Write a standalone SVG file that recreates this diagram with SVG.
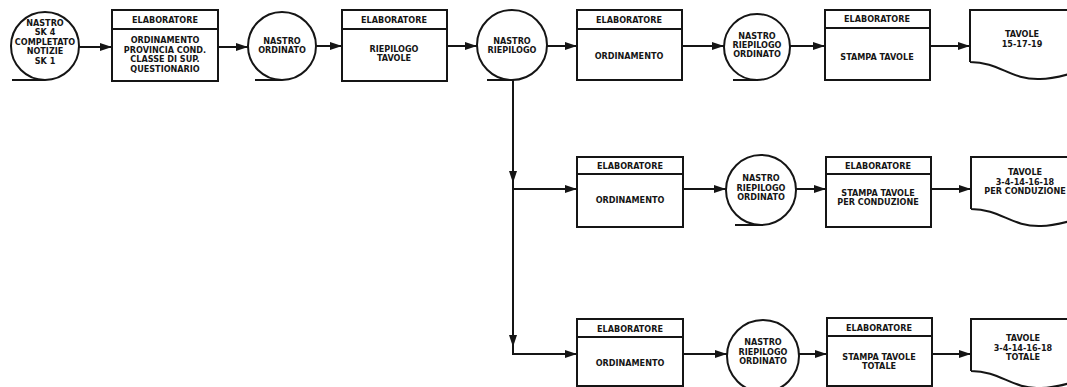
<svg xmlns="http://www.w3.org/2000/svg" width="1067" height="387" viewBox="0 0 1067 387">
<style>
.s{fill:none;stroke:#151515;stroke-width:2}
.b{fill:#fff;stroke:#151515;stroke-width:2}
.c{stroke:#151515;stroke-width:2;fill:none}
text{font-family:"DejaVu Sans Condensed","DejaVu Sans",sans-serif;font-weight:bold;font-size:9px;fill:#151515;text-anchor:middle}
</style>
<defs>
<marker id="ah" viewBox="0 0 12 8" refX="12" refY="4" markerWidth="12" markerHeight="8" markerUnits="userSpaceOnUse" orient="auto">
<path d="M0,0 L12,4 L0,8 Z" fill="#151515"/>
</marker>
<path id="doc" d="M0,52 L0,0 L110,0 M0,52 C30,52 40,70 70,69 C85,69 95,65 110,61"/>
</defs>
<rect width="1067" height="387" fill="#fff"/>

<g id="connectors">
<path class="c" d="M78,47 H112" marker-end="url(#ah)"/>
<path class="c" d="M218,47 H248" marker-end="url(#ah)"/>
<path class="c" d="M316,46 H342" marker-end="url(#ah)"/>
<path class="c" d="M447,46 H477" marker-end="url(#ah)"/>
<path class="c" d="M547,46 H577" marker-end="url(#ah)"/>
<path class="c" d="M682,46 H724" marker-end="url(#ah)"/>
<path class="c" d="M790,46 H825" marker-end="url(#ah)"/>
<path class="c" d="M930,46 H970" marker-end="url(#ah)"/>
<path class="c" d="M513,80 V183" marker-end="url(#ah)"/>
<path class="c" d="M513,183 V347" marker-end="url(#ah)"/>
<path class="c" d="M513,189 H577" marker-end="url(#ah)"/>
<path class="c" d="M513,347 V354 H577" marker-end="url(#ah)"/>
<path class="c" d="M683,189 H726" marker-end="url(#ah)"/>
<path class="c" d="M796,189 H826" marker-end="url(#ah)"/>
<path class="c" d="M931,189 H971" marker-end="url(#ah)"/>
<path class="c" d="M683,354 H727" marker-end="url(#ah)"/>
<path class="c" d="M798,354 H827" marker-end="url(#ah)"/>
<path class="c" d="M932,354 H971" marker-end="url(#ah)"/>
</g>

<g id="n1">
<circle class="b" cx="45" cy="46" r="34"/>
<path class="s" d="M12,80 H45"/>
<text x="45" y="26">NASTRO</text>
<text x="45" y="35">SK 4</text>
<text x="45" y="45">COMPLETATO</text>
<text x="45" y="54">NOTIZIE</text>
<text x="45" y="64">SK 1</text>
</g>

<g id="n2">
<rect class="b" x="112" y="10" width="106" height="71"/>
<path class="s" d="M112,29 H218"/>
<text x="165" y="23">ELABORATORE</text>
<text x="165" y="43">ORDINAMENTO</text>
<text x="165" y="53">PROVINCIA COND.</text>
<text x="165" y="62">CLASSE DI SUP.</text>
<text x="165" y="72">QUESTIONARIO</text>
</g>

<g id="n3">
<circle class="b" cx="282" cy="46" r="34"/>
<path class="s" d="M255,80 H282"/>
<text x="282" y="44">NASTRO</text>
<text x="282" y="53">ORDINATO</text>
</g>

<g id="n4">
<rect class="b" x="342" y="10" width="105" height="71"/>
<path class="s" d="M342,29 H447"/>
<text x="394" y="23">ELABORATORE</text>
<text x="394" y="52">RIEPILOGO</text>
<text x="394" y="61">TAVOLE</text>
</g>

<g id="n5">
<circle class="b" cx="512" cy="45" r="35"/>
<path class="s" d="M487,80 H513"/>
<text x="512" y="44">NASTRO</text>
<text x="512" y="53">RIEPILOGO</text>
</g>

<g id="n6">
<rect class="b" x="577" y="10" width="105" height="70"/>
<path class="s" d="M577,29 H682"/>
<text x="629" y="23">ELABORATORE</text>
<text x="629" y="59">ORDINAMENTO</text>
</g>

<g id="n7">
<circle class="b" cx="757" cy="47" r="33"/>
<path class="s" d="M733,80 H757"/>
<text x="757" y="39">NASTRO</text>
<text x="757" y="48">RIEPILOGO</text>
<text x="757" y="57">ORDINATO</text>
</g>

<g id="n8">
<rect class="b" x="825" y="10" width="105" height="70"/>
<path class="s" d="M825,28 H930"/>
<text x="877" y="22">ELABORATORE</text>
<text x="877" y="60">STAMPA TAVOLE</text>
</g>

<g id="n9">
<use href="#doc" class="s" transform="translate(970,10)"/>
<text x="1022" y="37">TAVOLE</text>
<text x="1022" y="47">15-17-19</text>
</g>

<g id="n10">
<rect class="b" x="577" y="157" width="106" height="70"/>
<path class="s" d="M577,174 H683"/>
<text x="630" y="169">ELABORATORE</text>
<text x="630" y="203">ORDINAMENTO</text>
</g>

<g id="n11">
<circle class="b" cx="761" cy="190" r="35"/>
<path class="s" d="M735,225 H761"/>
<text x="761" y="181">NASTRO</text>
<text x="761" y="191">RIEPILOGO</text>
<text x="761" y="200">ORDINATO</text>
</g>

<g id="n12">
<rect class="b" x="826" y="157" width="105" height="70"/>
<path class="s" d="M826,174 H931"/>
<text x="878" y="169">ELABORATORE</text>
<text x="878" y="196">STAMPA TAVOLE</text>
<text x="878" y="205">PER CONDUZIONE</text>
</g>

<g id="n13">
<use href="#doc" class="s" transform="translate(971,157)"/>
<text x="1025" y="175">TAVOLE</text>
<text x="1025" y="185">3-4-14-16-18</text>
<text x="1025" y="194">PER CONDUZIONE</text>
</g>

<g id="n14">
<rect class="b" x="577" y="319" width="106" height="67"/>
<path class="s" d="M577,337 H683"/>
<text x="630" y="332">ELABORATORE</text>
<text x="630" y="366">ORDINAMENTO</text>
</g>

<g id="n15">
<circle class="b" cx="763" cy="356" r="36"/>
<text x="763" y="345">NASTRO</text>
<text x="763" y="355">RIEPILOGO</text>
<text x="763" y="364">ORDINATO</text>
</g>

<g id="n16">
<rect class="b" x="827" y="318" width="105" height="68"/>
<path class="s" d="M827,336 H932"/>
<text x="879" y="331">ELABORATORE</text>
<text x="879" y="360">STAMPA TAVOLE</text>
<text x="879" y="369">TOTALE</text>
</g>

<g id="n17">
<use href="#doc" class="s" transform="translate(971,319)"/>
<text x="1023" y="341">TAVOLE</text>
<text x="1023" y="351">3-4-14-16-18</text>
<text x="1023" y="360">TOTALE</text>
</g>
</svg>
